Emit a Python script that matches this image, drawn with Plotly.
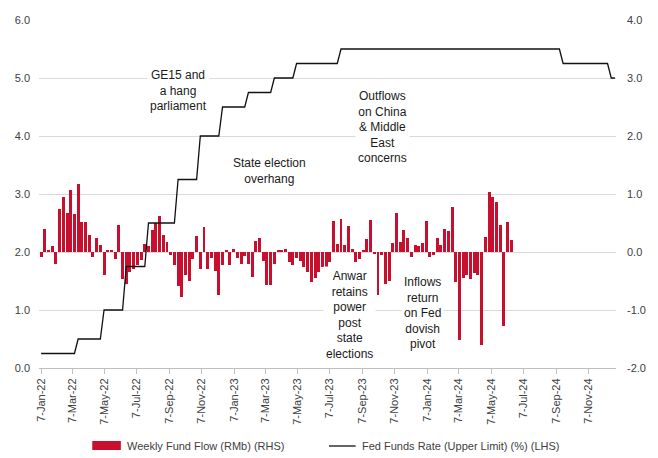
import pandas as pd
import plotly.graph_objects as go

# Weekly fund flow (RMb, right axis), one value per Friday from 7-Jan-22
flow_start = "2022-01-07"
weekly_flow = [
    -0.08, 0.40, 0.03, 0.10, -0.20, 0.75, 0.94, 0.67, 1.07, 0.65,
    1.17, 0.52, 0.52, 0.30, -0.09, 0.25, 0.12, -0.40, 0.04, 0.02,
    -0.12, 0.47, -0.47, -0.55, -0.34, -0.29, -0.22, -0.14, 0.13, 0.10,
    0.38, 0.50, 0.62, 0.30, 0.18, -0.05, -0.22, -0.58, -0.77, -0.40,
    -0.50, -0.12, 0.27, -0.30, 0.43, -0.29, -0.11, -0.32, -0.74, -0.22,
    0.03, -0.22, 0.06, -0.10, -0.20, -0.07, -0.20, -0.43, 0.19, 0.25,
    -0.15, -0.57, -0.57, -0.20, 0.03, 0.02, 0.06, -0.18, -0.22, -0.11,
    -0.15, -0.25, -0.34, -0.52, -0.45, -0.34, -0.25, -0.40, -0.18, 0.54,
    0.14, 0.57, 0.12, 0.45, 0.05, -0.18, -0.12, 0.03, 0.22, 0.55,
    -0.03, -0.74, -0.05, -0.55, -0.50, 0.15, 0.67, 0.18, 0.38, 0.25,
    -0.08, 0.12, 0.10, 0.15, 0.53, -0.08, -0.06, 0.25, 0.12, 0.40,
    0.36, 0.77, -0.52, -1.52, -0.45, -0.39, -0.47, -0.37, -0.40, -1.61,
    0.26, 1.04, 0.94, 0.87, 0.47, -1.27, 0.52, 0.20,
]

# Fed funds rate upper limit (%, left axis): level in force from each week
rate_change_weeks = [
    "2022-01-07", "2022-03-18", "2022-05-06", "2022-06-17", "2022-07-29",
    "2022-09-23", "2022-11-04", "2022-12-16", "2023-02-03", "2023-03-24",
    "2023-05-05", "2023-07-28", "2024-09-20", "2024-12-20",
]
rate_levels = [0.25, 0.50, 1.00, 1.75, 2.50, 3.25, 4.00, 4.50, 4.75, 5.00,
               5.25, 5.50, 5.25, 5.00]
rate_end = "2024-12-27"

# Axis ticks
tick_dates = pd.date_range("2022-01-01", "2024-11-01", freq="2MS") + pd.Timedelta(days=6)
flow_ticks = [-2, -1, 0, 1, 2, 3, 4]
flow_tick_text = ["-2.0", "-1.0", "0.0", "1.0", "2.0", "3.0", "4.0"]
rate_ticks = [0, 1, 2, 3, 4, 5, 6]
rate_tick_text = ["0.0", "1.0", "2.0", "3.0", "4.0", "5.0", "6.0"]

flow_dates = pd.date_range(flow_start, periods=len(weekly_flow), freq="7D")
rate_weeks = pd.date_range(rate_change_weeks[0], rate_end, freq="7D")
rate_steps = pd.Series(rate_levels, index=pd.to_datetime(rate_change_weeks))
weekly_rate = rate_steps.reindex(rate_weeks, method="ffill")

RED = "#C8102E"
FONT = "Liberation Sans, Arial, sans-serif"

fig = go.Figure()
fig.add_trace(go.Bar(
    x=flow_dates, y=weekly_flow, yaxis="y",
    marker=dict(color=RED, line=dict(width=0)),
    width=5.6 * 86400000, name="Weekly Fund Flow (RMb) (RHS)",
    showlegend=False,
))
fig.add_trace(go.Scatter(
    x=weekly_rate.index, y=weekly_rate.values, yaxis="y2", mode="lines",
    line=dict(color="#111111", width=1.3),
    name="Fed Funds Rate (Upper Limit) (%) (LHS)", showlegend=False,
))

fig.update_layout(
    width=658, height=458,
    margin=dict(l=39, r=34, t=20, b=90),
    paper_bgcolor="white", plot_bgcolor="white",
    font=dict(family=FONT, color="#404040"),
    bargap=0,
    xaxis=dict(
        type="date", range=["2022-01-03", "2024-12-29"],
        tickvals=list(tick_dates), tickformat="%-d-%b-%y", tickangle=-90,
        ticks="outside", ticklen=5, tickcolor="#bfbfbf",
        showline=True, linecolor="#bfbfbf", linewidth=1,
        showgrid=False, zeroline=False,
        tickfont=dict(size=11, color="#404040"),
    ),
    yaxis=dict(
        side="right", range=[-2, 4], tickvals=flow_ticks, ticktext=flow_tick_text,
        showgrid=True, gridcolor="#d9d9d9", gridwidth=1, zeroline=False,
        ticks="", ticklabelstandoff=10,
        tickfont=dict(size=11, color="#404040"),
    ),
    yaxis2=dict(
        side="left", overlaying="y", range=[0, 6],
        tickvals=rate_ticks, ticktext=rate_tick_text,
        showgrid=False, zeroline=False, ticks="", ticklabelstandoff=8,
        tickfont=dict(size=11, color="#404040"),
    ),
)

# Event call-outs
notes = [
    ("2022-09-23", 4.79, "GE15 and<br>a hang<br>parliament"),
    ("2023-03-14", 3.40, "State election<br>overhang"),
    ("2023-10-14", 4.16, "Outflows<br>on China<br>&amp; Middle<br>East<br>concerns"),
    ("2023-08-14", 0.91, "Anwar<br>retains<br>power<br>post<br>state<br>elections"),
    ("2023-12-30", 0.95, "Inflows<br>return<br>on Fed<br>dovish<br>pivot"),
]
for x, y, text in notes:
    fig.add_annotation(
        x=x, y=y, xref="x", yref="y2", text=text, showarrow=False,
        align="center", bgcolor="white", borderpad=2,
        font=dict(family=FONT, size=12, color="#1a1a1a"),
    )

# Legend row below the axis
def px_x(p):
    return (p - 39) / 585.0

def px_y(p):
    return (368 - p) / 348.0

fig.add_shape(type="rect", xref="paper", yref="paper",
              x0=px_x(93), x1=px_x(122), y0=px_y(450), y1=px_y(441),
              fillcolor=RED, line=dict(width=0))
fig.add_shape(type="line", xref="paper", yref="paper",
              x0=px_x(333), x1=px_x(360), y0=px_y(446), y1=px_y(446),
              line=dict(color="#111111", width=1.3))
fig.add_annotation(x=px_x(126), y=px_y(446), xref="paper", yref="paper",
                   text="Weekly Fund Flow (RMb) (RHS)", showarrow=False,
                   xanchor="left", yanchor="middle",
                   font=dict(family=FONT, size=11, color="#404040"))
fig.add_annotation(x=px_x(364), y=px_y(446), xref="paper", yref="paper",
                   text="Fed Funds Rate (Upper Limit) (%) (LHS)", showarrow=False,
                   xanchor="left", yanchor="middle",
                   font=dict(family=FONT, size=11, color="#404040"))

fig.write_html("out.html")
